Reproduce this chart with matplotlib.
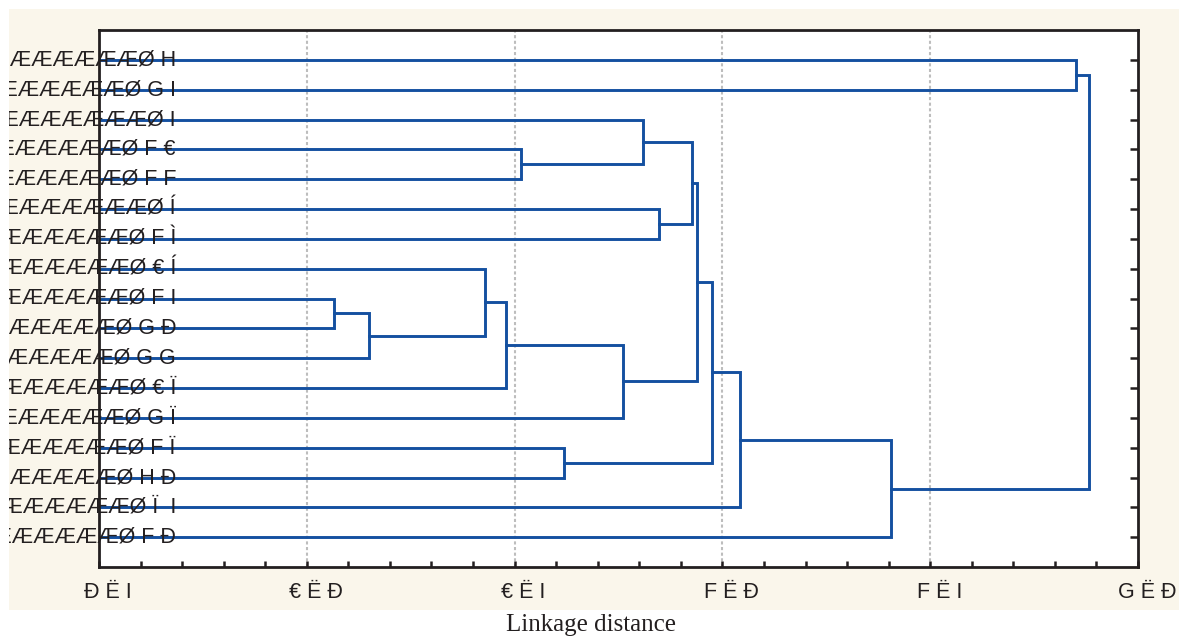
#!/usr/bin/env python3

import matplotlib
matplotlib.use("Agg")
import matplotlib.pyplot as plt
from matplotlib.patches import Rectangle
from matplotlib.transforms import Bbox, TransformedBbox, ScaledTranslation
import numpy as np

# leaves, top to bottom (text exactly as it appears)
leaf_labels = [
    "ÆÆÆÆÆÆÆÆØ H",
    "ÆÆÆÆÆÆÆØ G I",
    "ÆÆÆÆÆÆÆÆØ I",
    "ÆÆÆÆÆÆÆØ F €",
    "ÆÆÆÆÆÆÆØ F F",
    "ÆÆÆÆÆÆÆÆØ Í",
    "ÆÆÆÆÆÆÆØ F Ì",
    "ÆÆÆÆÆÆÆØ € Í",
    "ÆÆÆÆÆÆÆØ F I",
    "ÆÆÆÆÆÆÆØ G Ð",
    "ÆÆÆÆÆÆÆØ G G",
    "ÆÆÆÆÆÆÆØ € Ï",
    "ÆÆÆÆÆÆÆØ G Ï",
    "ÆÆÆÆÆÆÆØ F Ï",
    "ÆÆÆÆÆÆÆØ H Ð",
    "ÆÆÆÆÆÆÆØ Ï  I",
    "ÆÆÆÆÆÆÆØ F Ð",
]

# merges: (left node, right node, linkage distance); new nodes numbered from 17
merge_left = [8, 17, 7, 19, 3, 13, 20, 2, 5, 24, 26, 27, 28, 29, 0, 31]
merge_right = [9, 10, 18, 11, 4, 14, 12, 21, 6, 25, 23, 22, 15, 16, 1, 30]
merge_height = [1.066, 1.150, 1.429, 1.480, 1.516, 1.619, 1.762, 1.808,
                1.848, 1.928, 1.940, 1.975, 2.042, 2.406, 2.852, 2.881]

x_ticks = [0.5, 1.0, 1.5, 2.0, 2.5, 3.0]
x_tick_labels = ["Ð Ë I", "€ Ë Ð", "€ Ë I", "F Ë Ð", "F Ë I", "G Ë Ð"]

W, H = 1186, 637
BLUE = "#1450a0"
INK = "#231f20"

fig = plt.figure(figsize=(W / 100, H / 100), dpi=100)
fig.patch.set_facecolor("white")

# beige panel
panel = Rectangle((9 / W, 27 / H), 1170 / W, 601 / H, transform=fig.transFigure,
                  facecolor="#faf6eb", edgecolor="none", zorder=-10)
fig.patches.append(panel)
clip = TransformedBbox(Bbox([[9 / W, 27 / H], [1179 / W, 628 / H]]), fig.transFigure)

ax = fig.add_axes([99 / W, 70 / H, 1039 / W, 537 / H])
ax.set_facecolor("white")

n = len(leaf_labels)
ypos = {i: i + 1 for i in range(n)}
xpos = {i: 0.0 for i in range(n)}
for k, (a, b, h) in enumerate(zip(merge_left, merge_right, merge_height)):
    ax.plot([xpos[a], h, h, xpos[b]], [ypos[a], ypos[a], ypos[b], ypos[b]],
            color=BLUE, lw=2.1, solid_joinstyle="miter", zorder=2)
    ypos[n + k] = (ypos[a] + ypos[b]) / 2
    xpos[n + k] = h

ax.set_xlim(0.5, 3.0)
ax.set_ylim(18, 0)

for s in ax.spines.values():
    s.set_color(INK)
    s.set_linewidth(2.0)
    s.set_zorder(3)

ax.set_xticks(x_ticks)
ax.set_xticklabels(x_tick_labels, fontsize=15.5, family="Liberation Sans", color=INK)
ax.set_xticks(np.arange(0.5, 3.0001, 0.1), minor=True)
ax.tick_params(axis="x", which="both", direction="in", length=4, width=1.8,
               color=INK, pad=11, top=False)
ax.tick_params(axis="x", which="minor", labelbottom=False)
off = ScaledTranslation(9 / 100, 0, fig.dpi_scale_trans)
for lab in ax.get_xticklabels():
    lab.set_transform(lab.get_transform() + off)
    lab.set_clip_box(clip)
    lab.set_clip_on(True)

ax.set_yticks(range(1, n + 1))
ax.tick_params(axis="y", left=False, right=True, labelleft=False, direction="in",
               length=6, width=1.8, color=INK)

for x in x_ticks[1:-1]:
    ax.axvline(x, color="#bdbdbd", lw=1.5, linestyle=(0, (1.5, 1.2)), zorder=1)

for i, lab in enumerate(leaf_labels):
    t = ax.text((176 - 99) / 1039, i + 1, lab, transform=ax.get_yaxis_transform(),
                ha="right", va="center", fontsize=15.5, family="Liberation Sans",
                color=INK, zorder=2.2)
    t.set_clip_path(None)
    t.set_clip_box(clip)
    t.set_clip_on(True)

fig.text(591 / W, 1 - 625 / H, "Linkage distance", ha="center", va="center",
         fontsize=18, family="Liberation Serif", color=INK)

fig.savefig("out.png", dpi=100)
